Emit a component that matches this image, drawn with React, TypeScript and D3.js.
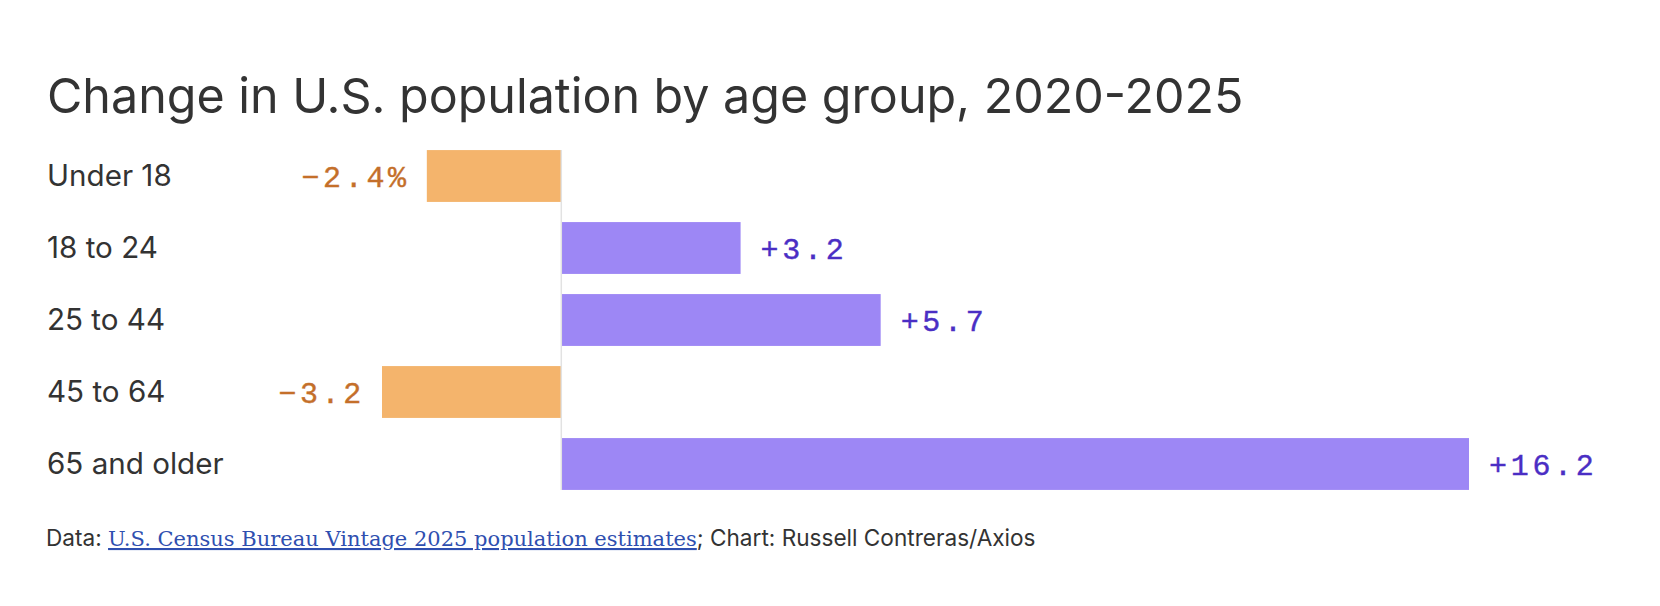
import * as d3 from "d3";

const CATEGORIES = ["Under 18", "18 to 24", "25 to 44", "45 to 64", "65 and older"];
const CHANGE = [-2.4, 3.2, 5.7, -3.2, 16.2];
const VALUE_LABELS = ["\u22122.4%", "+3.2", "+5.7", "\u22123.2", "+16.2"];

const TITLE = "Change in U.S. population by age group, 2020-2025";
const SOURCE_LINK = "U.S. Census Bureau Vintage 2025 population estimates";

const W = 1660, H = 606;
const SANS = "Inter, 'Noto Sans', sans-serif";
const MONO = "'Liberation Mono', 'DejaVu Sans Mono', monospace";

const NEG_FILL = "#f4b46c", NEG_TEXT = "#c46f2a";
const POS_FILL = "#9d87f5", POS_TEXT = "#4a2ec4";

export default function App() {
  const y = d3.scaleBand<string>()
    .domain(CATEGORIES)
    .range([140, 500])
    .paddingInner(0.28)
    .paddingOuter(0.14);

  const x = d3.scaleLinear()
    .domain(d3.extent(CHANGE) as [number, number])
    .range([382, 1469]);

  const x0 = x(0);
  const rows = CATEGORIES.map((c, i) => ({ c, v: CHANGE[i], label: VALUE_LABELS[i] }));

  return (
    <svg width={W} height={H} style={{ position: "absolute", left: 0, top: 0, background: "#fff" }}>
      <text x={47} y={113} fontFamily={SANS} fontSize={48.4} fill="#333">{TITLE}</text>

      {rows.map(d => {
        const top = y(d.c)!;
        const mid = top + y.bandwidth() / 2;
        const neg = d.v < 0;
        return (
          <g key={d.c}>
            <text x={47} y={mid + 10} fontFamily={SANS} fontSize={29.6} fill="#333">{d.c}</text>
            <rect
              x={Math.min(x(d.v), x0)}
              y={top}
              width={Math.abs(x(d.v) - x0)}
              height={y.bandwidth()}
              fill={neg ? NEG_FILL : POS_FILL}
            />
            <text
              x={neg ? x(d.v) - 17 : x(d.v) + 20}
              y={mid + 11}
              textAnchor={neg ? "end" : "start"}
              fontFamily={MONO}
              fontSize={30}
              letterSpacing={3.7}
              fill={neg ? NEG_TEXT : POS_TEXT}
              stroke={neg ? NEG_TEXT : POS_TEXT}
              strokeWidth={0.4}
            >
              {d.label}
            </text>
          </g>
        );
      })}

      {/* zero baseline sits over the bars */}
      <line x1={x0} x2={x0} y1={y(CATEGORIES[0])!} y2={y(CATEGORIES[4])! + y.bandwidth()} stroke="#e2e2e2" strokeWidth={1.5} />

      <text x={46} y={546} fontFamily={SANS} fontSize={22.6} fill="#333">
        <tspan>Data: </tspan>
        <tspan fontFamily="'DejaVu Serif', serif" fontSize={21} fill="#2f4fb0" style={{ textDecoration: "underline" }}>{SOURCE_LINK}</tspan>
        <tspan>; Chart: Russell Contreras/Axios</tspan>
      </text>
    </svg>
  );
}
